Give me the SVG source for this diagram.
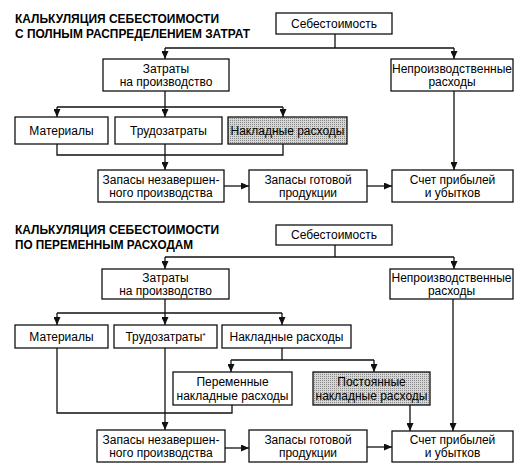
<svg xmlns="http://www.w3.org/2000/svg" width="529" height="471" viewBox="0 0 529 471">
<defs>
<style>
.b{fill:#fff;stroke:#111;stroke-width:1.3}
.g{fill:url(#hatch);stroke:#111;stroke-width:1.3}
.t{font-family:"Liberation Sans",Arial,sans-serif;font-size:12px;fill:#000;text-anchor:middle}
.h{font-family:"Liberation Sans",Arial,sans-serif;font-size:12.5px;font-weight:bold;fill:#000}
.c{fill:none;stroke:#111;stroke-width:1.3}
.a{fill:none;stroke:#111;stroke-width:1.3;marker-end:url(#arr)}
</style>
<pattern id="hatch" width="2" height="2" patternUnits="userSpaceOnUse">
<rect width="2" height="2" fill="#d6d6d6"/>
<rect width="1" height="1" fill="#8a8a8a"/>
</pattern>
<marker id="arr" markerUnits="userSpaceOnUse" markerWidth="8" markerHeight="7" refX="8" refY="3.5" orient="auto">
<path d="M0,0 L8,3.5 L0,7 z" fill="#111"/>
</marker>
</defs>
<rect width="529" height="471" fill="#fff"/>

<text class="h" x="15" y="23" textLength="204" lengthAdjust="spacingAndGlyphs">КАЛЬКУЛЯЦИЯ СЕБЕСТОИМОСТИ</text>
<text class="h" x="15" y="38" textLength="235" lengthAdjust="spacingAndGlyphs">С ПОЛНЫМ РАСПРЕДЕЛЕНИЕМ ЗАТРАТ</text>
<text class="h" x="15" y="234" textLength="204" lengthAdjust="spacingAndGlyphs">КАЛЬКУЛЯЦИЯ СЕБЕСТОИМОСТИ</text>
<text class="h" x="15" y="249" textLength="178" lengthAdjust="spacingAndGlyphs">ПО ПЕРЕМЕННЫМ РАСХОДАМ</text>

<g id="connectors">
<path class="c" d="M335,34 V48 M165,48 H454"/>
<path class="a" d="M165,48 V59"/>
<path class="a" d="M454,48 V59"/>
<path class="c" d="M165,91 V107 M57,107 H283"/>
<path class="a" d="M57,107 V117"/>
<path class="a" d="M165,107 V117"/>
<path class="a" d="M283,107 V117"/>
<path class="c" d="M57,144 V155 H283 V144"/>
<path class="a" d="M165,144 V170"/>
<path class="a" d="M224,186 H249"/>
<path class="a" d="M367,186 H392"/>
<path class="a" d="M454,91 V170"/>

<path class="c" d="M335,245 V257 M165,257 H454"/>
<path class="a" d="M165,257 V269"/>
<path class="a" d="M454,257 V269"/>
<path class="c" d="M165,299 V313 M57,313 H282"/>
<path class="a" d="M57,313 V325"/>
<path class="a" d="M165,313 V325"/>
<path class="a" d="M282,313 V325"/>
<path class="c" d="M282,348 V360 M231,360 H374"/>
<path class="a" d="M231,360 V372"/>
<path class="a" d="M374,360 V372"/>
<path class="c" d="M57,348 V413 H232 V405"/>
<path class="a" d="M165,348 V430"/>
<path class="a" d="M225,448 H249"/>
<path class="a" d="M367,447 H392"/>
<path class="a" d="M410,405 V431"/>
<path class="a" d="M453,299 V431"/>
</g>

<g id="top-cost"><rect class="b" x="276" y="13" width="116" height="21"/><text class="t" x="334" y="28">Себестоимость</text></g>
<g id="top-prod"><rect class="b" x="103" y="59" width="126" height="32"/><text class="t" x="166" y="73">Затраты</text><text class="t" x="166" y="86">на производство</text></g>
<g id="top-nonprod"><rect class="b" x="391" y="59" width="122" height="32"/><text class="t" x="452" y="73">Непроизводственные</text><text class="t" x="452" y="86">расходы</text></g>
<g id="top-mat"><rect class="b" x="15" y="117" width="93" height="27"/><text class="t" x="61.5" y="135">Материалы</text></g>
<g id="top-labor"><rect class="b" x="115" y="117" width="107" height="27"/><text class="t" x="168.5" y="135">Трудозатраты</text></g>
<g id="top-overhead"><rect class="g" x="228" y="117" width="119" height="27"/><text class="t" x="287.5" y="135">Накладные расходы</text></g>
<g id="top-wip"><rect class="b" x="98" y="170" width="126" height="32"/><text class="t" x="161" y="184">Запасы незавершен-</text><text class="t" x="161" y="197">ного производства</text></g>
<g id="top-fg"><rect class="b" x="249" y="170" width="118" height="32"/><text class="t" x="308" y="184">Запасы готовой</text><text class="t" x="308" y="197">продукции</text></g>
<g id="top-pl"><rect class="b" x="392" y="170" width="121" height="32"/><text class="t" x="452.5" y="184">Счет прибылей</text><text class="t" x="452.5" y="197">и убытков</text></g>

<g id="bot-cost"><rect class="b" x="276" y="225" width="116" height="20"/><text class="t" x="334" y="239">Себестоимость</text></g>
<g id="bot-prod"><rect class="b" x="102" y="269" width="127" height="30"/><text class="t" x="165.5" y="282">Затраты</text><text class="t" x="165.5" y="295">на производство</text></g>
<g id="bot-nonprod"><rect class="b" x="390" y="269" width="123" height="30"/><text class="t" x="451.5" y="282">Непроизводственные</text><text class="t" x="451.5" y="295">расходы</text></g>
<g id="bot-mat"><rect class="b" x="15" y="325" width="93" height="23"/><text class="t" x="61.5" y="341">Материалы</text></g>
<g id="bot-labor"><rect class="b" x="114" y="325" width="103" height="23"/><text class="t" x="165.5" y="341">Трудозатраты<tspan font-size="8" dy="-3">*</tspan></text></g>
<g id="bot-overhead"><rect class="b" x="222" y="325" width="129" height="23"/><text class="t" x="286.5" y="341">Накладные расходы</text></g>
<g id="bot-var"><rect class="b" x="173" y="372" width="119" height="33"/><text class="t" x="232.5" y="386">Переменные</text><text class="t" x="232.5" y="400">накладные расходы</text></g>
<g id="bot-fixed"><rect class="g" x="313" y="372" width="117" height="33"/><text class="t" x="371.5" y="386">Постоянные</text><text class="t" x="371.5" y="400">накладные расходы</text></g>
<g id="bot-wip"><rect class="b" x="97" y="430" width="128" height="32"/><text class="t" x="161" y="444">Запасы незавершен-</text><text class="t" x="161" y="457">ного производства</text></g>
<g id="bot-fg"><rect class="b" x="249" y="430" width="118" height="32"/><text class="t" x="308" y="444">Запасы готовой</text><text class="t" x="308" y="457">продукции</text></g>
<g id="bot-pl"><rect class="b" x="392" y="431" width="121" height="31"/><text class="t" x="452.5" y="444">Счет прибылей</text><text class="t" x="452.5" y="457">и убытков</text></g>
</svg>
